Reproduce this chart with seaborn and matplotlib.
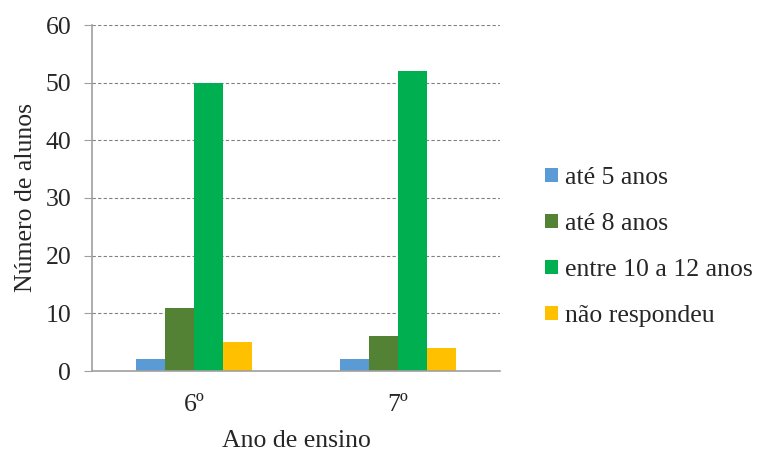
import matplotlib
matplotlib.use("Agg")
import matplotlib.pyplot as plt
import seaborn as sns
import pandas as pd

anos = ["6º", "7º"]
faixas = ["até 5 anos", "até 8 anos", "entre 10 a 12 anos", "não respondeu"]
valores_6 = [2, 11, 50, 5]
valores_7 = [2, 6, 52, 4]
cores = ["#5B9BD5", "#548235", "#00B050", "#FFC000"]

df = pd.DataFrame({
    "ano": [a for a in anos for _ in faixas],
    "faixa": faixas * len(anos),
    "n": valores_6 + valores_7,
})

sns.set_style("white")
plt.rcParams["font.family"] = ["Liberation Serif", "DejaVu Serif"]

fs = 18.5
fig = plt.figure(figsize=(7.6, 4.51), dpi=100)
ax = fig.add_axes([92 / 760, 1 - 371 / 451, 408 / 760, 346 / 451])

sns.barplot(data=df, x="ano", y="n", hue="faixa", hue_order=faixas,
            palette=cores, width=0.57, saturation=1, linewidth=0,
            ax=ax, legend=True)

ax.set_ylim(0, 60)
ax.set_xlim(-0.5, 1.5)
ax.set_yticks(range(0, 61, 10))
ax.yaxis.grid(True, linestyle=(0, (3, 2)), color="#808080", linewidth=0.8)
ax.set_axisbelow(True)
for s in ["top", "right"]:
    ax.spines[s].set_visible(False)
for s in ["left", "bottom"]:
    ax.spines[s].set_color("#A0A0A0")
    ax.spines[s].set_linewidth(1.2)
ax.tick_params(axis="y", which="both", left=True, length=6, color="#A0A0A0",
               labelsize=fs, pad=9)
ax.tick_params(axis="x", bottom=False, labelsize=fs, pad=13)
ax.set_xlabel("Ano de ensino", fontsize=fs, labelpad=10)
ax.set_ylabel("Número de alunos", fontsize=fs, labelpad=6)

ax.legend(loc="center left", bbox_to_anchor=(1.067, 0.358), frameon=False,
          fontsize=fs, handlelength=0.5, handleheight=0.5, handletextpad=0.25,
          labelspacing=0.93, title=None, borderaxespad=0.3)

fig.savefig("out.png", dpi=100)
